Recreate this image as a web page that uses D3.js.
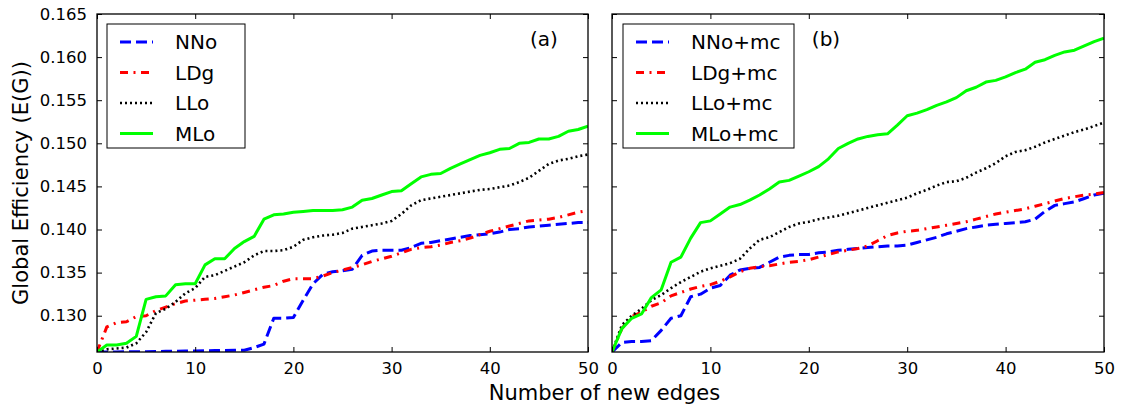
<!DOCTYPE html>
<html>
<head>
<meta charset="utf-8">
<script src="https://cdn.jsdelivr.net/npm/d3@7"></script>
<style>
  body { margin: 0; background: #fff; }
  svg { font-family: "DejaVu Sans", sans-serif; }
</style>
</head>
<body>
<svg id="chart" width="1128" height="405"></svg>
<script>

// number of new edges on the x axis
let edges = d3.range(0, 51)

// panel (a)
let nnoA = [0.12579, 0.12580, 0.12580, 0.12581, 0.12582, 0.12583, 0.12585, 0.12587, 0.12588, 0.12590,
    0.12592, 0.12594, 0.12595, 0.12597, 0.12598, 0.12600, 0.1263, 0.1267, 0.1297, 0.1297,
    0.1298, 0.1318, 0.1337, 0.1348, 0.1351, 0.1352, 0.1354, 0.1370, 0.1375, 0.1376,
    0.1376, 0.1376, 0.1379, 0.1384, 0.1385, 0.1387, 0.1389, 0.1391, 0.1393, 0.1394,
    0.1395, 0.1397, 0.1400, 0.1401, 0.1403, 0.1404, 0.1405, 0.1406, 0.1407, 0.1408, 0.1408]
let ldgA = [0.12579, 0.1287, 0.1292, 0.1293, 0.1299, 0.1300, 0.1306, 0.1310, 0.1314, 0.1317,
    0.1318, 0.1319, 0.1320, 0.1322, 0.1324, 0.1327, 0.1330, 0.1333, 0.1335, 0.1340,
    0.1343, 0.1343, 0.1343, 0.1346, 0.1350, 0.1353, 0.1356, 0.1359, 0.1363, 0.1366,
    0.1369, 0.1373, 0.1377, 0.1379, 0.1380, 0.1382, 0.1385, 0.1387, 0.1390, 0.1394,
    0.1398, 0.1401, 0.1404, 0.1407, 0.1410, 0.1411, 0.1412, 0.1414, 0.1417, 0.1420, 0.1422]
let lloA = [0.12579, 0.1261, 0.1262, 0.1263, 0.1268, 0.1281, 0.1303, 0.1308, 0.1316, 0.1326,
    0.1332, 0.1345, 0.1347, 0.1352, 0.1357, 0.1362, 0.1370, 0.1375, 0.1375, 0.1376,
    0.1380, 0.1388, 0.1391, 0.1393, 0.1394, 0.1396, 0.1401, 0.1403, 0.1405, 0.1407,
    0.1410, 0.1418, 0.1428, 0.1434, 0.1436, 0.1438, 0.1440, 0.1442, 0.1444, 0.1446,
    0.1447, 0.1449, 0.1451, 0.1455, 0.1460, 0.1468, 0.1476, 0.1480, 0.1482, 0.1485, 0.1487]
let mloA = [0.12579, 0.1266, 0.1266, 0.1268, 0.1276, 0.1319, 0.1322, 0.1323, 0.1336, 0.1337,
    0.1337, 0.1359, 0.1366, 0.1366, 0.1378, 0.1386, 0.1392, 0.1412, 0.1417, 0.1418,
    0.1420, 0.1421, 0.1422, 0.1422, 0.1422, 0.1423, 0.1426, 0.1434, 0.1436, 0.1440,
    0.1444, 0.1445, 0.1453, 0.1461, 0.1464, 0.1465, 0.1471, 0.1476, 0.1481, 0.1486,
    0.1489, 0.1493, 0.1494, 0.1500, 0.1501, 0.1505, 0.1505, 0.1508, 0.1514, 0.1516, 0.1520]

// panel (b)
let nnoB = [0.12579, 0.1269, 0.1270, 0.1270, 0.1271, 0.1283, 0.1297, 0.1300, 0.1322, 0.1325,
    0.1332, 0.1335, 0.1347, 0.1353, 0.1355, 0.1356, 0.1362, 0.1368, 0.1370, 0.1371,
    0.1371, 0.1373, 0.1374, 0.1376, 0.1377, 0.1378, 0.1379, 0.1380, 0.1381, 0.1381,
    0.1382, 0.1385, 0.1388, 0.1391, 0.1395, 0.1398, 0.1401, 0.1403, 0.1405, 0.1406,
    0.1407, 0.1408, 0.1409, 0.1412, 0.1421, 0.1428, 0.1430, 0.1432, 0.1436, 0.1440, 0.1442]
let ldgB = [0.12579, 0.1285, 0.1299, 0.1304, 0.1311, 0.1315, 0.1323, 0.1327, 0.1331, 0.1334,
    0.1336, 0.1340, 0.1345, 0.1351, 0.1355, 0.1357, 0.1358, 0.1360, 0.1362, 0.1363,
    0.1365, 0.1368, 0.1371, 0.1374, 0.1376, 0.1378, 0.1381, 0.1387, 0.1393, 0.1396,
    0.1398, 0.1399, 0.1401, 0.1403, 0.1405, 0.1407, 0.1409, 0.1412, 0.1415, 0.1418,
    0.1420, 0.1422, 0.1424, 0.1427, 0.1430, 0.1433, 0.1436, 0.1438, 0.1440, 0.1441, 0.1443]
let lloB = [0.12579, 0.1289, 0.1300, 0.1308, 0.1318, 0.1324, 0.1332, 0.1339, 0.1345, 0.1351,
    0.1355, 0.1358, 0.1361, 0.1366, 0.1378, 0.1388, 0.1391, 0.1397, 0.1403, 0.1407,
    0.1409, 0.1412, 0.1414, 0.1416, 0.1419, 0.1422, 0.1425, 0.1428, 0.1431, 0.1434,
    0.1437, 0.1442, 0.1446, 0.1451, 0.1455, 0.1456, 0.1460, 0.1466, 0.1471, 0.1477,
    0.1485, 0.1490, 0.1492, 0.1496, 0.1501, 0.1505, 0.1509, 0.1513, 0.1516, 0.1520, 0.1524]
let mloB = [0.12579, 0.1285, 0.1297, 0.1302, 0.1321, 0.1330, 0.1362, 0.1368, 0.1390, 0.1408,
    0.1410, 0.1418, 0.1426, 0.1429, 0.1434, 0.1440, 0.1447, 0.1455, 0.1457, 0.1462,
    0.1467, 0.1473, 0.1482, 0.1494, 0.1500, 0.1505, 0.1508, 0.1510, 0.1511, 0.1521,
    0.1532, 0.1535, 0.1539, 0.1544, 0.1548, 0.1553, 0.1561, 0.1565, 0.1571, 0.1573,
    0.1577, 0.1582, 0.1586, 0.1594, 0.1597, 0.1602, 0.1606, 0.1608, 0.1613, 0.1618, 0.1622]

let namesA = ["NNo", "LDg", "LLo", "MLo"]
let namesB = ["NNo+mc", "LDg+mc", "LLo+mc", "MLo+mc"]
let xTicks = [0, 10, 20, 30, 40, 50]
let yTicks = [0.130, 0.135, 0.140, 0.145, 0.150, 0.155, 0.160, 0.165]
let yDomain = [0.12579, 0.165]

// line styles, same order as the names
let colors = ["#0000ff", "#ff0000", "#000000", "#00ff00"]
let dashes = ["11,5", "8,5.5,2,5.5", "2,3", null]
let widths = [3, 3, 2.6, 3]

let svg = d3.select("#chart")

let plotTop = 14, plotBottom = 352
let panels = [
    { left: 97, right: 588, series: [nnoA, ldgA, lloA, mloA], names: namesA, tag: "(a)", labels: true,
      legend: { x: 107, y: 24, w: 138 } },
    { left: 612, right: 1104, series: [nnoB, ldgB, lloB, mloB], names: namesB, tag: "(b)", labels: false,
      legend: { x: 623, y: 24, w: 171 } }
]

panels.forEach(function (p, pi) {
    let x = d3.scaleLinear().domain([0, 50]).range([p.left, p.right])
    let y = d3.scaleLinear().domain(yDomain).range([plotBottom, plotTop])

    let g = svg.append("g")

    svg.append("clipPath").attr("id", "clip" + pi)
        .append("rect")
        .attr("x", p.left).attr("y", plotTop)
        .attr("width", p.right - p.left).attr("height", plotBottom - plotTop)

    // lines
    let line = d3.line()
        .x(function (d, i) { return x(edges[i]) })
        .y(function (d) { return y(d) })

    p.series.forEach(function (s, i) {
        g.append("path")
            .datum(s)
            .attr("clip-path", "url(#clip" + pi + ")")
            .attr("d", line)
            .attr("fill", "none")
            .attr("stroke", colors[i])
            .attr("stroke-width", widths[i])
            .attr("stroke-dasharray", dashes[i])
            .attr("stroke-linejoin", "round")
    })

    // axes, ticks pointing inward on all sides
    g.append("g")
        .attr("transform", `translate(0, ${plotBottom})`)
        .call(d3.axisBottom(x).tickValues(xTicks).tickSize(-5).tickPadding(10).tickFormat(d3.format("d")))
    g.append("g")
        .attr("transform", `translate(0, ${plotTop})`)
        .call(d3.axisTop(x).tickValues(xTicks).tickSize(-5).tickFormat(""))
    g.append("g")
        .attr("transform", `translate(${p.left}, 0)`)
        .call(d3.axisLeft(y).tickValues(yTicks).tickSize(-5).tickPadding(10)
            .tickFormat(p.labels ? d3.format(".3f") : ""))
    g.append("g")
        .attr("transform", `translate(${p.right}, 0)`)
        .call(d3.axisRight(y).tickValues(yTicks).tickSize(-5).tickFormat(""))

    g.selectAll(".domain").remove()
    g.selectAll(".tick line").attr("stroke", "#000").attr("stroke-width", 1)
    g.selectAll(".tick text")
        .attr("fill", "#000")
        .style("font-size", "16.5px")
        .style("font-family", "DejaVu Sans")

    // frame
    g.append("rect")
        .attr("x", p.left).attr("y", plotTop)
        .attr("width", p.right - p.left).attr("height", plotBottom - plotTop)
        .attr("fill", "none")
        .attr("stroke", "#000")
        .attr("stroke-width", 1.3)

    // panel tag
    g.append("text")
        .attr("x", p.left + (pi == 0 ? 447 : 214))
        .attr("y", 46)
        .attr("text-anchor", "middle")
        .style("font-size", "20px")
        .text(p.tag)

    // legend
    let lg = g.append("g")
    lg.append("rect")
        .attr("x", p.legend.x).attr("y", p.legend.y)
        .attr("width", p.legend.w).attr("height", 124)
        .attr("fill", "#fff")
        .attr("stroke", "#000")
        .attr("stroke-width", 1)
    p.names.forEach(function (name, i) {
        let ly = p.legend.y + 18 + i * 30.5
        lg.append("line")
            .attr("x1", p.legend.x + 13).attr("x2", p.legend.x + 46)
            .attr("y1", ly).attr("y2", ly)
            .attr("stroke", colors[i])
            .attr("stroke-width", widths[i])
            .attr("stroke-dasharray", dashes[i])
        lg.append("text")
            .attr("x", p.legend.x + 68)
            .attr("y", ly + 7)
            .style("font-size", "20px")
            .text(name)
    })
})

// axis titles
svg.append("text")
    .attr("x", 604.5)
    .attr("y", 400)
    .attr("text-anchor", "middle")
    .style("font-size", "21px")
    .text("Number of new edges")

svg.append("text")
    .attr("transform", "translate(28, 183) rotate(-90)")
    .attr("text-anchor", "middle")
    .style("font-size", "21px")
    .text("Global Efficiency (E(G))")

</script>
</body>
</html>
